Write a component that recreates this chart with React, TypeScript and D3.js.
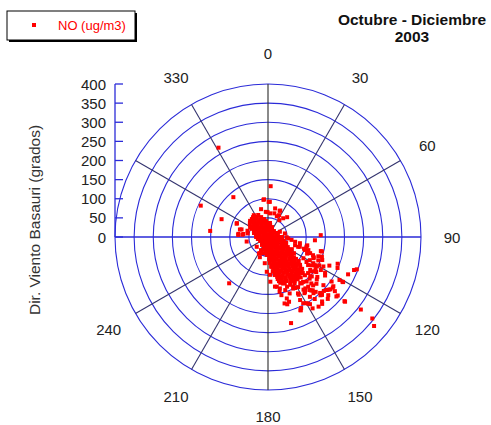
import React from 'react';
import * as d3 from 'd3';

// ---- data: [wind direction (deg), NO (ug/m3)] ----
const denseObs: [number, number][] = [
  [327, 68], [336, 63],
  [318, 63], [326, 57], [336, 51], [348, 48],
  [308, 60], [315, 52], [324, 45], [337, 40], [352, 37], [8, 37],
  [302, 49], [310, 41], [321, 33], [338, 28], [0, 26], [22, 28],
  [293, 40], [301, 30], [315, 22], [342, 17], [18, 17], [45, 22],
  [280, 32], [284, 22], [297, 12], [0, 5], [63, 12], [76, 22],
  [259, 27], [252, 17], [225, 7], [135, 7], [108, 17], [101, 27], [98, 37],
  [225, 22], [198, 17], [162, 17], [135, 22], [121, 30], [113, 40], [108, 50],
  [202, 28], [180, 26], [158, 28], [141, 33], [130, 41], [122, 49], [117, 58],
  [188, 37], [172, 37], [157, 40], [145, 45], [135, 52], [128, 60], [123, 68],
  [180, 47], [168, 48], [156, 51], [146, 57], [138, 63], [132, 70], [127, 78],
  [177, 58], [167, 59], [158, 62], [149, 67], [142, 73], [136, 80], [131, 87], [128, 93],
  [176, 68], [167, 70], [159, 73], [152, 77], [145, 83], [140, 89], [135, 96], [131, 104],
  [172, 79], [165, 81], [158, 84], [152, 89], [146, 94], [141, 100], [137, 107], [133, 115],
  [172, 90], [165, 92], [159, 95], [153, 99], [148, 104], [144, 110], [140, 117], [136, 124],
  [170, 101], [164, 103], [159, 107], [153, 111], [149, 116], [145, 122], [141, 128],
  [167, 113], [162, 116], [157, 119], [152, 124], [148, 129], [145, 135],
  [165, 124], [160, 128], [154, 133], [150, 139],
  [90, 10], [270, 10], [180, 10], [45, 14], [200, 12], [315, 12], [160, 8],
  [243, 23], [225, 15], [180, 10], [135, 15], [117, 23], [108, 33], [104, 43],
  [217, 26], [194, 21], [166, 21], [143, 26], [129, 33], [120, 42], [114, 51],
  [198, 33], [180, 31], [162, 33], [146, 38], [135, 44], [127, 52], [121, 61], [117, 70],
  [187, 42], [173, 42], [159, 45], [148, 49], [139, 56], [132, 63], [126, 71], [122, 80],
  [174, 53], [163, 55], [153, 58], [145, 64], [138, 70], [132, 78], [128, 86],
  [173, 63], [164, 65], [155, 69], [148, 74], [142, 80], [136, 87], [132, 94], [128, 102],
  [172, 74], [164, 76], [157, 80], [150, 84], [145, 90], [139, 96], [135, 104], [131, 111],
  [169, 85], [163, 88], [156, 91], [151, 96], [146, 102], [141, 108], [137, 115], [133, 122],
  [169, 96], [163, 98], [157, 102], [152, 106], [147, 112], [143, 118], [139, 124], [136, 131],
  [167, 107], [162, 110], [157, 114], [152, 118], [148, 123], [144, 129], [141, 136],
  [166, 119], [161, 122], [157, 125], [152, 130], [149, 135],
  [323, 65], [331, 60], [341, 55],
  [312, 63], [319, 56], [328, 49], [339, 45], [353, 42],
  [304, 57], [311, 48], [320, 41], [333, 35], [351, 32], [10, 32],
  [297, 47], [304, 38], [315, 30], [333, 23], [0, 21], [27, 23],
  [286, 38], [292, 28], [304, 19], [333, 12], [27, 12], [56, 19], [68, 28],
  [270, 31], [270, 21], [270, 10], [90, 10], [90, 21], [90, 31], [90, 37],
];

const scatterObs: [number, number][] = [
  [3, 133], [319, 138], [291, 130], [276, 152], [295, 194], [353, 98], [346, 75],
  [25, 76], [44, 72], [5, 62], [294, 89], [276, 78], [277, 65], [202, 57], [220, 158],
  [88, 138], [109, 103], [112, 127], [110, 150], [115, 177], [111, 195], [110, 247],
  [111, 241], [115, 231], [121, 218], [128, 215], [131, 237], [134, 203], [138, 205],
  [136, 225], [143, 203], [153, 185], [155, 205], [148, 207], [162, 178], [164, 183],
  [165, 233], [128, 308], [128, 346], [130, 362], [331, 267], [354, 99], [3, 92], [24, 75],
  [121, 227], [114, 199], [113, 154], [124, 180], [130, 213], [127, 214], [129, 225],
  [130, 261], [134, 219], [140, 220], [148, 220], [150, 200], [142, 176],
  [147, 175], [156, 210], [139, 190], [129, 166], [134, 176], [137, 173], [135, 154],
  [132, 141], [128, 146], [124, 150], [120, 137], [119, 153], [122, 163], [119, 125],
  [113, 111], [114, 131], [108, 99], [105, 143],
  [293, 89], [285, 76], [274, 78], [275, 67], [258, 57], [287, 56], [298, 53], [208, 39],
  [196, 44], [23, 59], [34, 53], [78, 45], [91, 49], [97, 62], [100, 72], [108, 83],
  [14, 77], [359, 65],
  [105, 146], [111, 141], [115, 131], [111, 118], [109, 102], [102, 105], [101, 85],
  [121, 108], [125, 128], [121, 143], [118, 164], [122, 176], [126, 156], [128, 140],
  [132, 154], [136, 139], [131, 169], [139, 154], [145, 147], [153, 146], [159, 139],
  [162, 128], [164, 117], [170, 132], [159, 158], [152, 167], [144, 166], [140, 182],
  [137, 200], [132, 207], [206, 47], [187, 69], [182, 91], [177, 99], [177, 117],
  [168, 146], [167, 156], [163, 168], [166, 179], [152, 171], [156, 209],
  [152, 196], [149, 203], [145, 191], [141, 189], [137, 207], [141, 225], [144, 225],
  [131, 192], [131, 210], [130, 238], [130, 263], [125, 203], [121, 229],
  [141, 167], [146, 166], [155, 138], [152, 151], [142, 149], [137, 166],
  [1, 92], [355, 66], [15, 64], [27, 64], [39, 63], [66, 34], [94, 53], [286, 72],
  [280, 54], [302, 50], [229, 39], [203, 42], [209, 49], [184, 47], [174, 78],
  [171, 92], [172, 131], [167, 138], [162, 146], [154, 150], [149, 153], [146, 173],
  [141, 180], [144, 150], [133, 151], [126, 153], [121, 149], [123, 136], [123, 120],
  [104, 104], [108, 111], [107, 87], [107, 74], [94, 123], [115, 145],
];

const ringValues = [50, 100, 150, 200, 250, 300, 350, 400];
const radialTicks = [0, 50, 100, 150, 200, 250, 300, 350, 400];
const spokeAngles = [0, 30, 60, 90, 120, 150, 180, 210, 240, 270, 300, 330];
const angleLabels = [0, 30, 60, 90, 120, 150, 180, 210, 240, 330];
const titleLines = ['Octubre - Diciembre', '2003'];
const legendLabel = 'NO (ug/m3)';
const radialTitle = 'Dir. Viento Basauri (grados)';

const W = 491;
const H = 425;
const cx = 268;
const cy = 237;
const R = 153;
const FONT = '"Liberation Sans", Arial, sans-serif';

export default function App() {
  const r = d3.scaleLinear().domain([0, 400]).range([0, R]);
  const ang = d3.scaleLinear().domain([0, 360]).range([0, 2 * Math.PI]);
  const px = (dir: number, v: number) => cx + r(v) * Math.sin(ang(dir));
  const py = (dir: number, v: number) => cy - r(v) * Math.cos(ang(dir));
  const labelR = 184;
  const all = [...scatterObs, ...denseObs];
  const spokeColor = (a: number) =>
    a % 180 === 0 ? '#2a2a2a' : a % 180 === 90 ? '#2b2bd8' : '#33336e';

  return (
    <svg width={W} height={H} style={{ position: 'absolute', left: 0, top: 0, background: '#fff' }}>
      {ringValues.map((v) => (
        <circle key={v} cx={cx} cy={cy} r={r(v)} fill="none" stroke="#2b2bd8" strokeWidth={1.1} />
      ))}
      {spokeAngles.map((a) => (
        <line key={a} x1={cx} y1={cy} x2={px(a, 400)} y2={py(a, 400)} stroke={spokeColor(a)} strokeWidth={1.1} />
      ))}
      <line x1={cx - R} y1={cy} x2={cx + R} y2={cy} stroke="#2b2bd8" strokeWidth={1.1} />
      <line x1={cx - R} y1={cy} x2={cx - R} y2={cy - R} stroke="#2b2bd8" strokeWidth={1.3} />
      {radialTicks.map((t) => (
        <g key={t}>
          <line x1={cx - R} x2={cx - R + 8} y1={cy - r(t)} y2={cy - r(t)} stroke="#2b2bd8" strokeWidth={1.3} />
          <text x={cx - R - 9} y={cy - r(t)} textAnchor="end" dominantBaseline="central" fontFamily={FONT} fontSize={15} fill="#222">
            {t}
          </text>
        </g>
      ))}
      <text transform={`translate(40, 220) rotate(-90)`} textAnchor="middle" fontFamily={FONT} fontSize={15.5} fill="#333">
        {radialTitle}
      </text>
      {angleLabels.map((a) => {
        const yy = cy - labelR * Math.cos(ang(a));
        return (
          <text
            key={a}
            x={cx + labelR * Math.sin(ang(a))}
            y={Math.min(yy, 416)}
            textAnchor="middle"
            dominantBaseline="central"
            fontFamily={FONT}
            fontSize={15}
            fill="#222"
          >
            {a}
          </text>
        );
      })}
      {all.map(([d, v], i) => (
        <rect key={i} x={px(d, v) - 2} y={py(d, v) - 2} width={4} height={4} fill="#ff0000" />
      ))}
      <rect x={9} y={13} width={128} height={29} fill="#000" />
      <rect x={7} y={11} width={128} height={29} fill="#fff" stroke="#000" strokeWidth={1} />
      <rect x={32} y={23} width={4} height={4} fill="#ff0000" />
      <text x={58} y={30} fontFamily={FONT} fontSize={13} fill="#ff0000">
        {legendLabel}
      </text>
      {titleLines.map((t, i) => (
        <text key={i} x={412} y={25 + i * 17} textAnchor="middle" fontFamily={FONT} fontSize={15.5} fontWeight="bold" fill="#111">
          {t}
        </text>
      ))}
    </svg>
  );
}
